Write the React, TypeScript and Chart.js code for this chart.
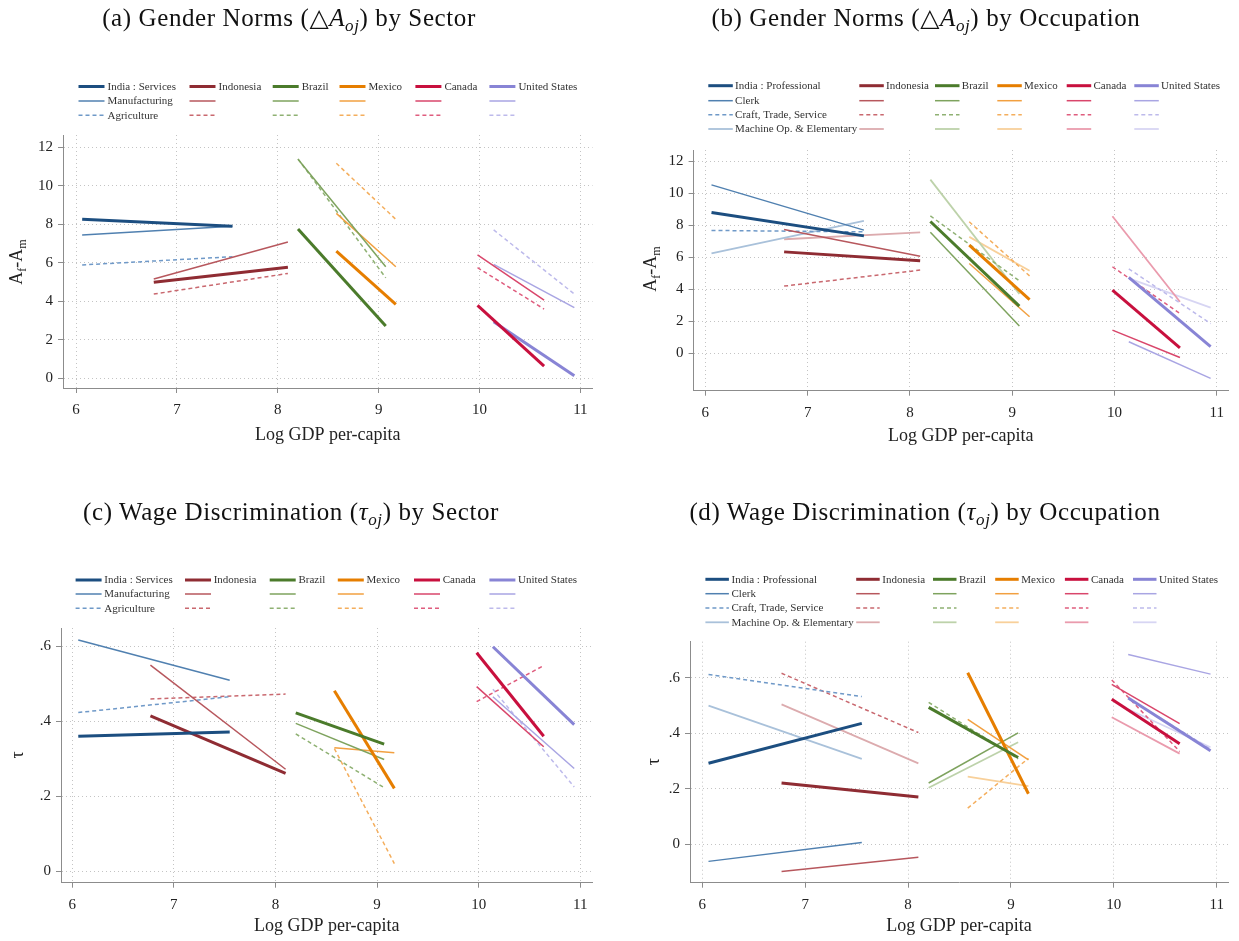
import React, { useEffect, useRef } from 'react';
import { Chart, registerables } from 'chart.js';
Chart.register(...registerables);

// ---------------- data ----------------
const countries = ['India', 'Indonesia', 'Brazil', 'Mexico', 'Canada', 'United States'];
const gdpStart = [6.06, 6.77, 8.2, 8.58, 9.98, 10.14];
const gdpEnd = [7.55, 8.1, 9.07, 9.17, 10.64, 10.94];

const sectors = ['Services', 'Manufacturing', 'Agriculture'];
const occupations = ['Professional', 'Clerk', 'Craft, Trade, Service', 'Machine Op. & Elementary'];

const xTicks = [6, 7, 8, 9, 10, 11];
const xTickLabels = ['6', '7', '8', '9', '10', '11'];
const normsTicks = [0, 2, 4, 6, 8, 10, 12];
const normsTickLabels = ['0', '2', '4', '6', '8', '10', '12'];
const wageTicks = [0, 0.2, 0.4, 0.6];
const wageTickLabels = ['0', '.2', '.4', '.6'];

// (a) Gender norms by sector: value at start / end of each country's GDP range
const normsServicesStart = [8.27, 4.99, 7.76, 6.61, 3.79, 2.94];
const normsServicesEnd = [7.9, 5.77, 2.72, 3.84, 0.64, 0.14];
const normsManufStart = [7.45, 5.16, 11.38, 8.57, 6.41, 5.92];
const normsManufEnd = [7.9, 7.08, 5.8, 5.8, 4.07, 3.67];
const normsAgriStart = [5.89, 4.38, 11.4, 11.17, 5.75, 7.71];
const normsAgriEnd = [6.32, 5.45, 5.22, 8.26, 3.6, 4.38];

// (b) Gender norms by occupation
const normsProfStart = [8.79, 6.33, 8.23, 6.75, 3.94, 4.73];
const normsProfEnd = [7.33, 5.77, 2.94, 3.35, 0.33, 0.4];
const normsClerkStart = [10.52, 7.73, 7.56, 5.6, 1.44, 0.71];
const normsClerkEnd = [7.69, 6.06, 1.69, 2.27, -0.27, -1.58];
const normsCraftStart = [7.67, 4.19, 8.58, 8.21, 5.4, 5.27];
const normsCraftEnd = [7.58, 5.19, 4.52, 4.83, 2.48, 1.85];
const normsMachineStart = [6.23, 7.12, 10.85, 7.27, 8.56, 4.67];
const normsMachineEnd = [8.27, 7.55, 3.7, 5.15, 3.21, 2.85];

// (c) Wage discrimination by sector
const wageServicesStart = [0.36, 0.414, 0.422, 0.481, 0.582, 0.598];
const wageServicesEnd = [0.371, 0.261, 0.339, 0.221, 0.36, 0.391];
const wageManufStart = [0.616, 0.549, 0.394, 0.329, 0.492, 0.465];
const wageManufEnd = [0.509, 0.272, 0.298, 0.316, 0.332, 0.274];
const wageAgriStart = [0.423, 0.459, 0.366, 0.327, 0.452, 0.485];
const wageAgriEnd = [0.465, 0.472, 0.223, 0.021, 0.548, 0.225];

// (d) Wage discrimination by occupation
const wageProfStart = [0.292, 0.221, 0.494, 0.619, 0.523, 0.528];
const wageProfEnd = [0.436, 0.17, 0.313, 0.182, 0.363, 0.337];
const wageClerkStart = [-0.062, -0.099, 0.221, 0.451, 0.577, 0.685];
const wageClerkEnd = [0.006, -0.047, 0.402, 0.304, 0.435, 0.614];
const wageCraftStart = [0.613, 0.617, 0.512, 0.13, 0.593, 0.527];
const wageCraftEnd = [0.533, 0.403, 0.308, 0.31, 0.335, 0.343];
const wageMachineStart = [0.5, 0.505, 0.204, 0.244, 0.458, 0.487];
const wageMachineEnd = [0.308, 0.292, 0.368, 0.21, 0.327, 0.35];

// ---------------- styles ----------------
const countryShades = [
  ['#1c4e80', '#5080b0', '#6f99c8', '#a9c1da'],
  ['#8f2c33', '#b7575d', '#c9686f', '#dcabae'],
  ['#4b7b2b', '#7ea35e', '#8fb173', '#bdd2aa'],
  ['#e67e00', '#f2a040', '#f4ae5d', '#f8d09a'],
  ['#c8103e', '#d9466b', '#df5d7e', '#ea9bad'],
  ['#8884d5', '#a9a5e3', '#bdbaeb', '#d7d5f3'],
];
const sectorStyles = [
  { shade: 0, width: 3, dash: [] as number[] },
  { shade: 1, width: 1.5, dash: [] as number[] },
  { shade: 2, width: 1.5, dash: [4, 3] },
];
const occStyles = [
  { shade: 0, width: 3, dash: [] as number[] },
  { shade: 1, width: 1.5, dash: [] as number[] },
  { shade: 2, width: 1.5, dash: [4, 3] },
  { shade: 3, width: 1.8, dash: [] as number[] },
];

const SERIF = "'Liberation Serif', 'DejaVu Serif', serif";
const AXIS_H = 60;

type PanelDef = {
  key: string;
  left: number; top: number; width: number; height: number;
  area: { left: number; right: number; top: number; bottom: number };
  xMin: number; xMax: number; yMin: number; yMax: number;
  yTicks: number[]; yLabels: string[];
  categories: string[];
  starts: number[][]; ends: number[][];
  styles: { shade: number; width: number; dash: number[] }[];
  legendCols: number[]; legendRows: number[]; sampleLen: number; textGap: number;
  yTitle: 'norms' | 'tau'; yTitleX: number; yTitleY: number;
  xTitleOffset: number;
  title: React.ReactNode; titleCx: number; titleTop: number;
};

const sub = (s: string) => (
  <span style={{ fontSize: '0.68em', verticalAlign: '-0.28em', fontStyle: 'italic' }}>{s}</span>
);

const panels: PanelDef[] = [
  {
    key: 'a', left: 0, top: 0, width: 620, height: 470,
    area: { left: 63, right: 592.5, top: 135, bottom: 388 },
    xMin: 5.87, xMax: 11.12, yMin: -0.5, yMax: 12.64,
    yTicks: normsTicks, yLabels: normsTickLabels,
    categories: sectors,
    starts: [normsServicesStart, normsManufStart, normsAgriStart],
    ends: [normsServicesEnd, normsManufEnd, normsAgriEnd],
    styles: sectorStyles,
    legendCols: [78.5, 189.5, 272.7, 339.5, 415.4, 489.4], legendRows: [86.5, 101, 115.2], sampleLen: 26, textGap: 3,
    yTitle: 'norms', yTitleX: 21.5, yTitleY: 262, xTitleOffset: 47,
    title: <>(a) Gender Norms (△<i>A</i>{sub('oj')}) by Sector</>, titleCx: 289, titleTop: 5,
  },
  {
    key: 'b', left: 620, top: 0, width: 619, height: 470,
    area: { left: 73.6, right: 608, top: 150, bottom: 390.7 },
    xMin: 5.885, xMax: 11.11, yMin: -2.35, yMax: 12.7,
    yTicks: normsTicks, yLabels: normsTickLabels,
    categories: occupations,
    starts: [normsProfStart, normsClerkStart, normsCraftStart, normsMachineStart],
    ends: [normsProfEnd, normsClerkEnd, normsCraftEnd, normsMachineEnd],
    styles: occStyles,
    legendCols: [88.3, 239.3, 315, 377.3, 446.7, 514.3], legendRows: [85.7, 100.7, 114.7, 129], sampleLen: 24.5, textGap: 2.3,
    yTitle: 'norms', yTitleX: 36.4, yTitleY: 269, xTitleOffset: 46,
    title: <>(b) Gender Norms (△<i>A</i>{sub('oj')}) by Occupation</>, titleCx: 306, titleTop: 5,
  },
  {
    key: 'c', left: 0, top: 470, width: 620, height: 471,
    area: { left: 61, right: 592.5, top: 158, bottom: 412.7 },
    xMin: 5.89, xMax: 11.12, yMin: -0.03, yMax: 0.648,
    yTicks: wageTicks, yLabels: wageTickLabels,
    categories: sectors,
    starts: [wageServicesStart, wageManufStart, wageAgriStart],
    ends: [wageServicesEnd, wageManufEnd, wageAgriEnd],
    styles: sectorStyles,
    legendCols: [75.6, 185, 269.7, 337.8, 414, 489.4], legendRows: [110, 124, 138.3], sampleLen: 26, textGap: 2.7,
    yTitle: 'tau', yTitleX: 22.8, yTitleY: 285, xTitleOffset: 44,
    title: <>(c) Wage Discrimination (<i>τ</i>{sub('oj')}) by Sector</>, titleCx: 291, titleTop: 29,
  },
  {
    key: 'd', left: 620, top: 470, width: 619, height: 471,
    area: { left: 70, right: 608, top: 171.7, bottom: 412.7 },
    xMin: 5.88, xMax: 11.11, yMin: -0.139, yMax: 0.731,
    yTicks: wageTicks, yLabels: wageTickLabels,
    categories: occupations,
    starts: [wageProfStart, wageClerkStart, wageCraftStart, wageMachineStart],
    ends: [wageProfEnd, wageClerkEnd, wageCraftEnd, wageMachineEnd],
    styles: occStyles,
    legendCols: [85.4, 236.2, 313, 375.2, 444.9, 513], legendRows: [109.3, 123.7, 138, 152.3], sampleLen: 23.5, textGap: 2.6,
    yTitle: 'tau', yTitleX: 39.4, yTitleY: 291.7, xTitleOffset: 44,
    title: <>(d) Wage Discrimination (<i>τ</i>{sub('oj')}) by Occupation</>, titleCx: 305, titleTop: 29,
  },
];

function Panel({ p }: { p: PanelDef }) {
  const ref = useRef<HTMLCanvasElement>(null);
  useEffect(() => {
    const canvas = ref.current;
    if (!canvas) return;
    const datasets: any[] = [];
    p.starts.forEach((startArr, c) => {
      const st = p.styles[c];
      countries.forEach((country, i) => {
        datasets.push({
          label: `${country} ${p.categories[c]}`,
          data: [
            { x: gdpStart[i], y: startArr[i] },
            { x: gdpEnd[i], y: p.ends[c][i] },
          ],
          borderColor: countryShades[i][st.shade],
          backgroundColor: countryShades[i][st.shade],
          borderWidth: st.width,
          borderDash: st.dash,
          borderCapStyle: 'butt',
          pointRadius: 0,
          pointHoverRadius: 0,
          fill: false,
          tension: 0,
        });
      });
    });

    const decor = {
      id: 'decor' + p.key,
      afterDraw(chart: any) {
        const ctx = chart.ctx as CanvasRenderingContext2D;
        const ca = chart.chartArea;
        ctx.save();
        // legend
        ctx.font = `11px ${SERIF}`;
        ctx.textBaseline = 'middle';
        ctx.textAlign = 'left';
        p.legendRows.forEach((ry, r) => {
          const st = p.styles[r];
          p.legendCols.forEach((cx, c) => {
            ctx.save();
            ctx.strokeStyle = countryShades[c][st.shade];
            ctx.lineWidth = st.width;
            ctx.setLineDash(st.dash);
            ctx.beginPath();
            ctx.moveTo(cx, ry);
            ctx.lineTo(cx + p.sampleLen, ry);
            ctx.stroke();
            ctx.restore();
            let label = '';
            if (c === 0) label = r === 0 ? `${countries[0]} : ${p.categories[0]}` : p.categories[r];
            else if (r === 0) label = countries[c];
            if (label) {
              ctx.fillStyle = '#333';
              ctx.fillText(label, cx + p.sampleLen + p.textGap, ry + 0.5);
            }
          });
        });
        // x title
        ctx.font = `18px ${SERIF}`;
        ctx.fillStyle = '#222';
        ctx.textAlign = 'center';
        ctx.textBaseline = 'middle';
        ctx.fillText('Log GDP per-capita', (ca.left + ca.right) / 2, ca.bottom + p.xTitleOffset);
        // y title (rotated)
        ctx.save();
        ctx.translate(p.yTitleX, p.yTitleY);
        ctx.rotate(-Math.PI / 2);
        ctx.textBaseline = 'alphabetic';
        ctx.textAlign = 'left';
        if (p.yTitle === 'norms') {
          const parts: [string, number, number][] = [
            ['A', 18, 0], ['f', 12, 4], ['-', 18, 0], ['A', 18, 0], ['m', 12, 4],
          ];
          let total = 0;
          parts.forEach(([t, s]) => { ctx.font = `${s}px ${SERIF}`; total += ctx.measureText(t).width; });
          let x = -total / 2;
          parts.forEach(([t, s, dy]) => {
            ctx.font = `${s}px ${SERIF}`;
            ctx.fillText(t, x, dy);
            x += ctx.measureText(t).width;
          });
        } else {
          ctx.font = `18px ${SERIF}`;
          ctx.textAlign = 'center';
          ctx.fillText('τ', 0, 0);
        }
        ctx.restore();
        ctx.restore();
      },
    };

    const gridCommon = {
      color: '#c4c4c4',
      lineWidth: 1,
      drawTicks: true,
      tickLength: 5,
      tickColor: '#8c8c8c',
      tickWidth: 1,
    };
    const borderCommon = { display: true, color: '#8c8c8c', width: 1, dash: [1, 3] };

    const chart = new Chart(canvas, {
      type: 'line',
      data: { datasets },
      options: {
        animation: false,
        responsive: false,
        maintainAspectRatio: false,
        events: [],
        layout: {
          padding: {
            left: 0,
            top: p.area.top,
            right: p.width - p.area.right,
            bottom: p.height - p.area.bottom - AXIS_H,
          },
        },
        plugins: {
          legend: { display: false },
          title: { display: false },
          tooltip: { enabled: false },
        },
        scales: {
          x: {
            type: 'linear',
            min: p.xMin,
            max: p.xMax,
            afterBuildTicks: (s: any) => { s.ticks = xTicks.map((v) => ({ value: v })); },
            afterFit: (s: any) => { s.height = AXIS_H; },
            ticks: {
              autoSkip: false,
              maxRotation: 0,
              padding: 8,
              color: '#222',
              font: { family: SERIF, size: 15 },
              callback: (_v: any, i: number) => xTickLabels[i],
            },
            grid: gridCommon,
            border: borderCommon,
          },
          y: {
            type: 'linear',
            min: p.yMin,
            max: p.yMax,
            afterBuildTicks: (s: any) => { s.ticks = p.yTicks.map((v) => ({ value: v })); },
            afterFit: (s: any) => { s.width = p.area.left; },
            ticks: {
              autoSkip: false,
              padding: 5,
              color: '#222',
              font: { family: SERIF, size: 15 },
              callback: (_v: any, i: number) => p.yLabels[i],
            },
            grid: gridCommon,
            border: borderCommon,
          },
        },
      } as any,
      plugins: [decor],
    });
    return () => chart.destroy();
  }, [p]);

  return (
    <div style={{ position: 'absolute', left: p.left, top: p.top, width: p.width, height: p.height }}>
      <canvas ref={ref} width={p.width} height={p.height} style={{ display: 'block', width: p.width, height: p.height }} />
      <div
        style={{
          position: 'absolute',
          left: p.titleCx,
          top: p.titleTop,
          transform: 'translateX(-50%)',
          whiteSpace: 'nowrap',
          fontFamily: SERIF,
          fontSize: 25,
          lineHeight: '25px',
          color: '#111',
          letterSpacing: '0.6px',
        }}
      >
        {p.title}
      </div>
    </div>
  );
}

export default function App() {
  return (
    <div style={{ position: 'absolute', left: 0, top: 0, width: 1239, height: 941, background: '#fff', overflow: 'hidden' }}>
      {panels.map((p) => (
        <Panel key={p.key} p={p} />
      ))}
    </div>
  );
}
